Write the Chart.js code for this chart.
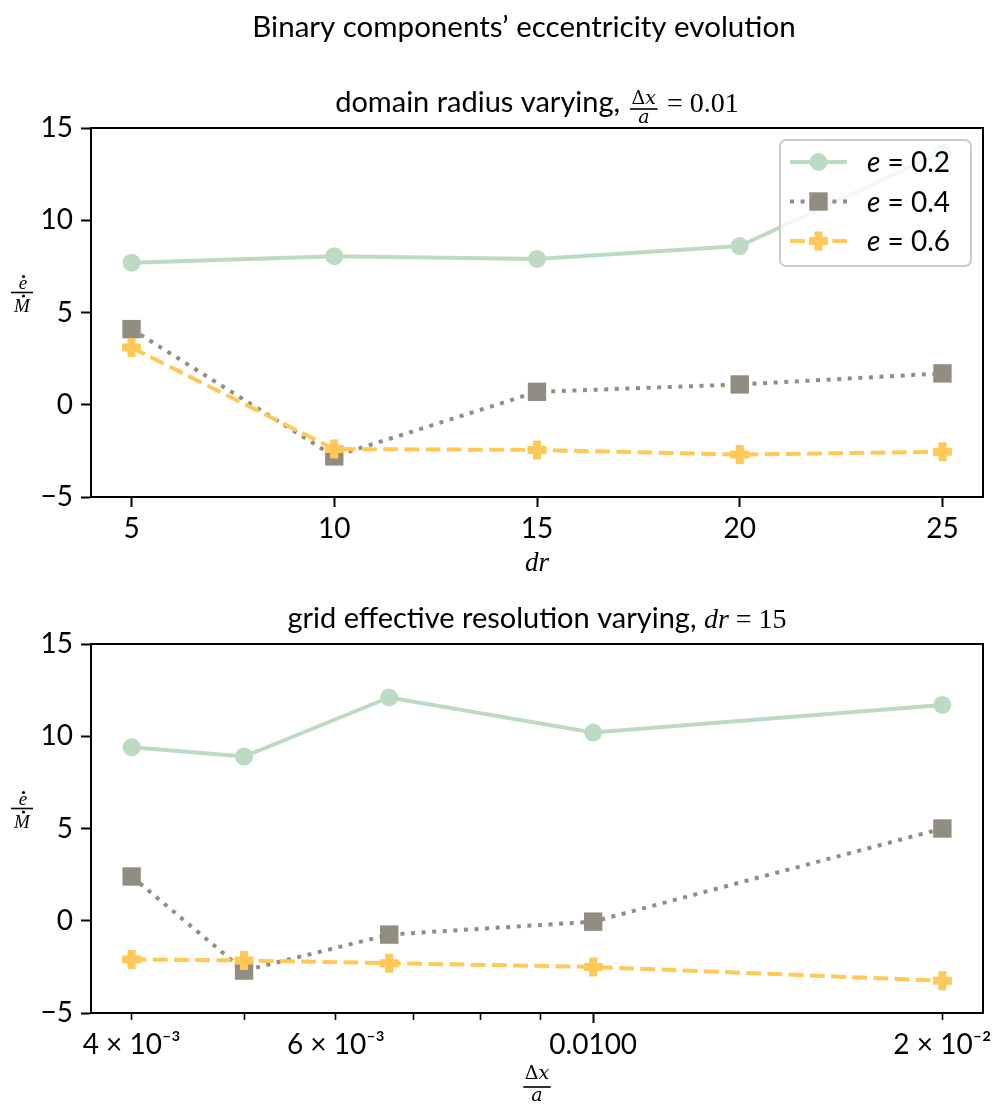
<!DOCTYPE html>
<html>
<head>
<meta charset="utf-8">
<script src="https://cdn.jsdelivr.net/npm/chart.js@4.4.1/dist/chart.umd.min.js"></script>
<style>
  body { margin: 0; background: #fff; width: 1003px; height: 1106px; position: relative; overflow: hidden; }
  canvas { position: absolute; left: 0; }
</style>
</head>
<body>
<canvas id="top" width="1003" height="580" style="top:0"></canvas>
<canvas id="bottom" width="1003" height="526" style="top:580px"></canvas>
<script>
const SERIES = ['e = 0.2', 'e = 0.4', 'e = 0.6'];

// top panel: domain radius
const DR = [5, 10, 15, 20, 25];
const DR_E02 = [7.7, 8.05, 7.9, 8.6, 13.7];
const DR_E04 = [4.1, -2.8, 0.7, 1.1, 1.7];
const DR_E06 = [3.1, -2.4, -2.45, -2.7, -2.55];

// bottom panel: grid resolution
const DX = [0.004, 0.005, 0.00667, 0.01, 0.02];
const DX_E02 = [9.4, 8.9, 12.1, 10.2, 11.7];
const DX_E04 = [2.4, -2.7, -0.75, -0.05, 5.0];
const DX_E06 = [-2.1, -2.15, -2.3, -2.5, -3.25];

const Y_TICKS = [-5, 0, 5, 10, 15];
const DX_TICKS = [0.004, 0.005, 0.006, 0.007, 0.008, 0.009, 0.01, 0.02];
const DX_LABELS = ['4 × 10⁻³', '', '6 × 10⁻³', '', '', '', '0.0100', '2 × 10⁻²'];

const SANS = 'Lato, "DejaVu Sans", sans-serif';
const SERIF = '"Liberation Serif", "DejaVu Serif", serif';
const MSERIF = '"DejaVu Serif", "Liberation Serif", serif';

const GREEN = '#bddbc3';
const GRAY = '#918e81';
const YELLOW = '#ffc857';

const STYLES = [
  { borderColor: GREEN, borderWidth: 4, pointStyle: 'circle', pointRadius: 9,
    pointBackgroundColor: GREEN, pointBorderColor: GREEN, pointBorderWidth: 0, order: 3 },
  { borderColor: GRAY, borderWidth: 4, borderDash: [4, 6.6], pointStyle: 'rect', pointRadius: 13,
    pointBackgroundColor: GRAY, pointBorderColor: GRAY, pointBorderWidth: 0, order: 2 },
  { borderColor: YELLOW, borderWidth: 4, borderDash: [14.8, 6.4], pointStyle: 'cross', pointRadius: 9.5,
    pointBackgroundColor: YELLOW, pointBorderColor: YELLOW, pointBorderWidth: 8, order: 1 },
];

function makeDatasets(xs, ysList) {
  return ysList.map((ys, i) => ({
    label: SERIES[i],
    data: xs.map((x, j) => ({ x: x, y: ys[j] })),
    tension: 0,
    pointHoverRadius: STYLES[i].pointRadius,
    ...STYLES[i],
  }));
}

// text made of runs: {t, f} or fractions {num: [...], den: [...]}
function runWidth(ctx, runs) {
  return runs.reduce((w, r) => { ctx.font = r.f; return w + ctx.measureText(r.t).width; }, 0);
}
function drawRuns(ctx, runs, x, y) {
  runs.forEach(r => { ctx.font = r.f; ctx.fillText(r.t, x, y); x += ctx.measureText(r.t).width; });
}
function partWidth(ctx, p) {
  if (p.num) return Math.max(runWidth(ctx, p.num), runWidth(ctx, p.den)) + 8;
  ctx.font = p.f;
  return ctx.measureText(p.t).width;
}
function drawFrac(ctx, p, cx, bar, up, down) {
  const w = Math.max(runWidth(ctx, p.num), runWidth(ctx, p.den)) + 3;
  drawRuns(ctx, p.num, cx - runWidth(ctx, p.num) / 2, bar - up);
  drawRuns(ctx, p.den, cx - runWidth(ctx, p.den) / 2, bar + down);
  ctx.fillRect(cx - w / 2, bar - 0.8, w, 1.6);
}
function drawParts(ctx, parts, cx, base, barLift = 3, up = 5, down = 14) {
  const total = parts.reduce((s, p) => s + partWidth(ctx, p), 0);
  let x = cx - total / 2;
  ctx.textAlign = 'left';
  ctx.textBaseline = 'alphabetic';
  parts.forEach(p => {
    const w = partWidth(ctx, p);
    if (p.num) drawFrac(ctx, p, x + w / 2, base - barLift, up, down);
    else { ctx.font = p.f; ctx.fillText(p.t, x, base); }
    x += w;
  });
}

const MATH = `19px ${MSERIF}`;
const MATH_I = `italic 19px ${MSERIF}`;
const DXA = { num: [{ t: 'Δ', f: MATH }, { t: 'x', f: MATH_I }], den: [{ t: 'a', f: MATH_I }] };

function drawYLabel(ctx, cx, bar) {
  ctx.textAlign = 'center';
  ctx.textBaseline = 'alphabetic';
  ctx.font = `italic 19px ${SERIF}`;
  ctx.fillText('e', cx + 1, bar - 4);
  ctx.fillText('M', cx, bar + 19);
  ctx.beginPath(); ctx.arc(cx + 1.5, bar - 16, 1.6, 0, Math.PI * 2); ctx.fill();
  ctx.beginPath(); ctx.arc(cx + 1.5, bar + 3.5, 1.6, 0, Math.PI * 2); ctx.fill();
  ctx.fillRect(cx - 11, bar - 0.8, 22, 1.6);
}

function drawLegend(chart) {
  const ctx = chart.ctx;
  ctx.beginPath();
  ctx.roundRect(780, 140, 191, 126, 6);
  ctx.fillStyle = 'rgba(255,255,255,0.8)';
  ctx.fill();
  ctx.strokeStyle = '#cccccc';
  ctx.lineWidth = 2;
  ctx.stroke();
  chart.data.datasets.forEach((ds, i) => {
    const y = 162 + i * 39.5;
    ctx.save();
    ctx.strokeStyle = ds.borderColor;
    ctx.lineWidth = ds.borderWidth;
    ctx.setLineDash(ds.borderDash || []);
    ctx.beginPath(); ctx.moveTo(790, y); ctx.lineTo(847, y); ctx.stroke();
    ctx.setLineDash([]);
    ctx.fillStyle = ds.pointBackgroundColor;
    ctx.strokeStyle = ds.pointBorderColor;
    ctx.lineWidth = ds.pointBorderWidth;
    Chart.helpers.drawPoint(ctx, { pointStyle: ds.pointStyle, radius: ds.pointRadius,
      borderWidth: ds.pointBorderWidth, rotation: 0 }, 818.5, y);
    ctx.restore();
    ctx.fillStyle = '#000';
    ctx.textAlign = 'left';
    ctx.textBaseline = 'alphabetic';
    drawRuns(ctx, [{ t: 'e', f: `italic 28px ${SANS}` }, { t: ' = ' + ds.label.split('= ')[1], f: `28px ${SANS}` }], 867, y + 10);
  });
}

const decor = {
  id: 'decor',
  afterDraw(chart, args, opts) {
    const ctx = chart.ctx, a = chart.chartArea;
    const cx = (a.left + a.right) / 2;
    ctx.save();
    ctx.strokeStyle = '#000';
    ctx.lineWidth = 2;
    ctx.strokeRect(a.left, a.top, a.right - a.left, a.bottom - a.top);
    ctx.fillStyle = '#000';
    if (opts.suptitle) {
      ctx.font = `29.5px ${SANS}`;
      ctx.textAlign = 'center';
      ctx.textBaseline = 'alphabetic';
      ctx.fillText(opts.suptitle, 524, 37);
    }
    drawParts(ctx, opts.title, cx, a.top - 16);
    drawYLabel(ctx, 22, (a.top + a.bottom) / 2 - 20);
    opts.xlabel(ctx, cx, a.bottom);
    if (opts.legend) drawLegend(chart);
    ctx.restore();
  }
};

const tickFont = { family: SANS, size: 28 };

function yScale() {
  return {
    min: -5, max: 15,
    afterFit: s => { s.width = 91; },
    afterBuildTicks: s => { s.ticks = Y_TICKS.map(v => ({ value: v })); },
    ticks: { color: '#000', font: tickFont, padding: 8,
      callback: v => v < 0 ? '−' + Math.abs(v) : String(v) },
    grid: { drawOnChartArea: false, tickColor: '#000', tickLength: 10, tickWidth: 2 },
    border: { color: '#000', width: 2 },
  };
}

function baseOptions(pad, xScale, plugin) {
  return {
    responsive: false,
    animation: false,
    events: [],
    layout: { padding: pad },
    scales: { x: xScale, y: yScale() },
    plugins: { legend: { display: false }, title: { display: false }, tooltip: { enabled: false }, decor: plugin },
  };
}

new Chart(document.getElementById('top'), {
  type: 'line',
  data: { datasets: makeDatasets(DR, [DR_E02, DR_E04, DR_E06]) },
  options: baseOptions({ left: 0, right: 20, top: 128, bottom: 0 }, {
    type: 'linear', min: 4, max: 26,
    afterFit: s => { s.height = 83; },
    afterBuildTicks: s => { s.ticks = DR.map(v => ({ value: v })); },
    ticks: { color: '#000', font: tickFont, padding: 5, maxRotation: 0, autoSkip: false },
    grid: { drawOnChartArea: false, tickColor: '#000', tickLength: 10, tickWidth: 2 },
    border: { color: '#000', width: 2 },
  }, {
    suptitle: 'Binary components’ eccentricity evolution',
    title: [{ t: 'domain radius varying, ', f: `29px ${SANS}` }, DXA, { t: ' = 0.01', f: `28px ${SERIF}` }],
    xlabel: (ctx, cx, bottom) => {
      ctx.font = `italic 27px ${SERIF}`;
      ctx.textAlign = 'center';
      ctx.fillText('dr', cx, bottom + 74);
    },
    legend: true,
  }),
  plugins: [decor],
});

new Chart(document.getElementById('bottom'), {
  type: 'line',
  data: { datasets: makeDatasets(DX, [DX_E02, DX_E04, DX_E06]) },
  options: baseOptions({ left: 0, right: 20, top: 64, bottom: 0 }, {
    type: 'logarithmic', min: 0.00369, max: 0.02168,
    afterFit: s => { s.height = 93; },
    afterBuildTicks: s => { s.ticks = DX_TICKS.map(v => ({ value: v })); },
    ticks: { color: '#000', font: tickFont, padding: 5, maxRotation: 0, autoSkip: false,
      callback: (v, i) => DX_LABELS[i] },
    grid: { drawOnChartArea: false, tickColor: '#000', tickLength: 10,
      tickWidth: c => (c.tick && c.tick.value === 0.01 ? 2 : 1.6),
      tickBorderDash: c => (c.tick && c.tick.value === 0.01 ? [] : [6, 30]) },
    border: { color: '#000', width: 2 },
  }, {
    title: [{ t: 'grid effective resolution varying, ', f: `29px ${SANS}` },
      { t: 'dr', f: `italic 28px ${SERIF}` }, { t: ' = 15', f: `28px ${SERIF}` }],
    xlabel: (ctx, cx, bottom) => drawParts(ctx, [DXA], cx, bottom + 74, 0, 8, 14),
    legend: false,
  }),
  plugins: [decor],
});
</script>
</body>
</html>
